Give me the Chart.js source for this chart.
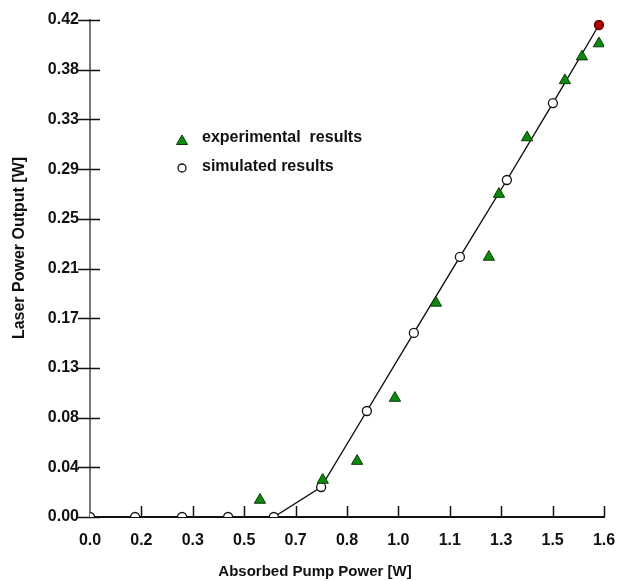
<!DOCTYPE html>
<html lang="en">
  <head>
    <meta charset="UTF-8" />
    <title>Laser Power Output</title>
    <script src="https://cdn.jsdelivr.net/npm/chart.js@4.4.0/dist/chart.umd.min.js"></script>
    <style>
      body { margin: 0; background: #fff; }
    </style>
  </head>
  <body>
    <canvas id="chart" width="627" height="581"></canvas>
    <script>
      // simulated results (circles, joined by a line)
      var simX = [0.0, 0.143, 0.292, 0.438, 0.583, 0.733, 0.878, 1.027, 1.173, 1.322, 1.468, 1.614];
      var simY = [0.0, 0.0, 0.0, 0.0, 0.0, 0.0252, 0.0891, 0.1547, 0.2186, 0.2833, 0.348, 0.4136];

      // experimental results (triangles)
      var expX = [0.539, 0.738, 0.847, 0.967, 1.097, 1.265, 1.297, 1.386, 1.506, 1.560, 1.614];
      var expY = [0.0143, 0.0311, 0.047, 0.100, 0.180, 0.2186, 0.2715, 0.319, 0.367, 0.387, 0.398];

      var xTickLabels = ['0.0', '0.2', '0.3', '0.5', '0.7', '0.8', '1.0', '1.1', '1.3', '1.5', '1.6'];
      var yTickLabels = ['0.00', '0.04', '0.08', '0.13', '0.17', '0.21', '0.25', '0.29', '0.33', '0.38', '0.42'];
      var xMax = 1.63;
      var yMax = 0.4178;

      function toPoints(xs, ys) {
        return xs.map(function (x, i) { return { x: x, y: ys[i] }; });
      }

      function evenTicks(max, labels) {
        return labels.map(function (_, i) { return { value: max * i / (labels.length - 1) }; });
      }

      var tickFont = { family: 'Liberation Sans, Arial, sans-serif', size: 16, weight: 'bold' };

      // tick marks crossing the axes, legend and axis titles
      var decorations = {
        id: 'decorations',
        beforeDatasetsDraw: function (chart) {
          var ctx = chart.ctx;
          var xs = chart.scales.x, ys = chart.scales.y;
          var area = chart.chartArea;
          ctx.save();
          ctx.strokeStyle = '#111';
          ctx.lineWidth = 1.5;
          xs.ticks.forEach(function (t, i) {
            if (i === 0) return;
            var px = Math.round(xs.getPixelForValue(t.value)) + 0.5;
            ctx.beginPath();
            ctx.moveTo(px, area.bottom);
            ctx.lineTo(px, area.bottom - 11);
            ctx.stroke();
          });
          ys.ticks.forEach(function (t) {
            var py = Math.round(ys.getPixelForValue(t.value)) + 0.5;
            ctx.beginPath();
            ctx.moveTo(area.left - 12, py);
            ctx.lineTo(area.left + 10, py);
            ctx.stroke();
          });
          ctx.restore();
        },
        afterDraw: function (chart) {
          var ctx = chart.ctx;
          var area = chart.chartArea;
          ctx.save();
          ctx.fillStyle = '#111';
          ctx.textAlign = 'center';
          ctx.textBaseline = 'middle';
          ctx.font = 'bold 15px Liberation Sans, Arial, sans-serif';
          ctx.fillText('Absorbed Pump Power [W]', 315, 572);
          ctx.translate(20, 248);
          ctx.rotate(-Math.PI / 2);
          ctx.font = 'bold 16px Liberation Sans, Arial, sans-serif';
          ctx.fillText('Laser Power Output [W]', 0, 0);
          ctx.restore();

          // legend
          var lx = area.left + 92, ly = area.top + 119;
          ctx.save();
          ctx.beginPath();
          ctx.moveTo(lx, ly - 4);
          ctx.lineTo(lx + 5.5, ly + 5.5);
          ctx.lineTo(lx - 5.5, ly + 5.5);
          ctx.closePath();
          ctx.fillStyle = '#0b8a0b';
          ctx.fill();
          ctx.strokeStyle = '#0a3a0a';
          ctx.lineWidth = 1;
          ctx.stroke();
          ctx.beginPath();
          ctx.arc(lx, ly + 29, 4, 0, Math.PI * 2);
          ctx.fillStyle = '#fff';
          ctx.fill();
          ctx.strokeStyle = '#111';
          ctx.lineWidth = 1.3;
          ctx.stroke();
          ctx.fillStyle = '#111';
          ctx.font = 'bold 16px Liberation Sans, Arial, sans-serif';
          ctx.textAlign = 'left';
          ctx.textBaseline = 'middle';
          ctx.fillText('experimental  results', lx + 20, ly - 1);
          ctx.fillText('simulated results', lx + 20, ly + 28);
          ctx.restore();
        }
      };

      var chart = new Chart(document.getElementById('chart'), {
        type: 'scatter',
        data: {
          datasets: [
            {
              label: 'experimental results',
              data: toPoints(expX, expY),
              pointStyle: 'triangle',
              pointRadius: 6.5,
              pointBackgroundColor: '#0b8a0b',
              pointBorderColor: '#0a3a0a',
              pointBorderWidth: 1,
              order: 1
            },
            {
              label: 'simulated results',
              data: toPoints(simX, simY),
              showLine: true,
              borderColor: '#111',
              borderWidth: 1.4,
              pointStyle: 'circle',
              pointRadius: 4.5,
              pointBackgroundColor: function (ctx) {
                return ctx.dataIndex === simX.length - 1 ? '#b00000' : '#fff';
              },
              pointBorderColor: function (ctx) {
                return ctx.dataIndex === simX.length - 1 ? '#600000' : '#111';
              },
              pointBorderWidth: 1.3,
              order: 2
            }
          ]
        },
        options: {
          responsive: false,
          animation: false,
          layout: { padding: { top: 20, right: 23, left: 0, bottom: 0 } },
          plugins: {
            legend: { display: false },
            tooltip: { enabled: false }
          },
          scales: {
            x: {
              type: 'linear',
              min: 0,
              max: xMax,
              afterBuildTicks: function (scale) { scale.ticks = evenTicks(xMax, xTickLabels); },
              afterFit: function (scale) { scale.height = 64; },
              grid: { display: false },
              border: { display: true, color: '#111', width: 2 },
              ticks: {
                padding: 6,
                color: '#111',
                font: tickFont,
                maxRotation: 0,
                autoSkip: false,
                callback: function (value, index) { return xTickLabels[index]; }
              }
            },
            y: {
              type: 'linear',
              min: 0,
              max: yMax,
              afterBuildTicks: function (scale) { scale.ticks = evenTicks(yMax, yTickLabels); },
              afterFit: function (scale) { scale.width = 90; },
              grid: { display: false },
              border: { display: true, color: '#777', width: 2 },
              ticks: {
                padding: 3,
                color: '#111',
                font: tickFont,
                autoSkip: false,
                callback: function (value, index) { return yTickLabels[index]; }
              }
            }
          }
        },
        plugins: [decorations]
      });
    </script>
  </body>
</html>
